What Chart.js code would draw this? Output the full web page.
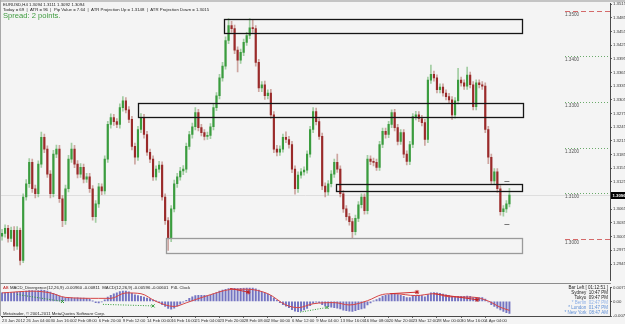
<!DOCTYPE html>
<html>
<head>
<meta charset="utf-8">
<script src="https://cdn.jsdelivr.net/npm/chart.js@4.4.1/dist/chart.umd.min.js"></script>
<style>
  html, body { margin: 0; padding: 0; }
  body { width: 625px; height: 324px; background: #f4f4f4; position: relative; overflow: hidden;
         font-family: "Liberation Sans", Arial, sans-serif; }
  canvas { position: absolute; left: 0; }
  #priceCanvas { top: 0; }
  #macdCanvas { top: 284px; }
  .txt { position: absolute; white-space: nowrap; color: #222; }
  #frameTop { position: absolute; left: 0; top: 0; width: 625px; height: 2px; background: #c4c4c4; }
  #frameLeft { position: absolute; left: 0; top: 0; width: 1px; height: 316px; background: #a8a8a8; }
  #sep { position: absolute; left: 0; top: 283px; width: 611px; height: 1px; background: #8c8c8c; }
  #info1 { left: 3px; top: 2px; font-size: 4.3px; }
  #info2 { left: 3px; top: 6.5px; font-size: 4.3px; }
  #spread { left: 3px; top: 11px; font-size: 7.6px; color: #3f9c3f; }
  #macdTitle { left: 3px; top: 285px; font-size: 4.3px; }
  #macdTitle b { color: #c02020; font-weight: normal; }
  #copy { left: 3px; top: 310.5px; font-size: 4.3px; }
  #clock { right: 17px; top: 284.5px; font-size: 4.5px; line-height: 5.1px; text-align: right; }
  #clock .c1 { color: #222; }
  #clock .c2 { color: #8eb0e6; }
  #clock .c3 { color: #5f8fd6; }
</style>
</head>
<body>
<canvas id="priceCanvas" width="625" height="284"></canvas>
<canvas id="macdCanvas" width="625" height="40"></canvas>
<div id="frameTop"></div>
<div id="frameLeft"></div>
<div id="sep"></div>
<div class="txt" id="info1">EURUSD,H4 1.3094 1.3111 1.3092 1.3094</div>
<div class="txt" id="info2">Today = 69 &nbsp;| &nbsp;ATR = 96 &nbsp;| &nbsp;Pip Value = 7.64 &nbsp;| &nbsp;ATR Projection Up = 1.3148 &nbsp;| &nbsp;ATR Projection Down = 1.3015</div>
<div class="txt" id="spread">Spread: 2 points.</div>
<div class="txt" id="macdTitle"><b>AB</b> MACD_Divergence(12,26,9) -0.00960 -0.00811 &nbsp;MACD(12,26,9) -0.00596 -0.00601 &nbsp;P4L Clock</div>
<div class="txt" id="copy">Metatrader, © 2001-2011 MetaQuotes Software Corp.</div>
<div class="txt" id="clock">
  <div class="c1">Bar Left [ 01:12:51 ]</div>
  <div class="c1">Sydney &nbsp;10:47 PM</div>
  <div class="c1">Tokyo &nbsp;09:47 PM</div>
  <div class="c2">* Berlin &nbsp;02:47 PM</div>
  <div class="c3">* London &nbsp;01:47 PM</div>
  <div class="c3">* New York &nbsp;08:47 AM</div>
</div>
<script>
// EURUSD H4, one candle per two H4 bars (index = candle number)
const opens = [
  1.3006, 1.3012, 1.3023, 1.3001, 1.3019, 1.2984, 1.3019, 1.2953, 1.3092, 1.3121,
  1.3168, 1.3110, 1.3099, 1.3164, 1.3223, 1.3197, 1.3142, 1.3099, 1.3186, 1.3197,
  1.3088, 1.3040, 1.3110, 1.3175, 1.3197, 1.3164, 1.3142, 1.3157, 1.3131, 1.3136,
  1.3110, 1.3049, 1.3077, 1.3114, 1.3105, 1.3175, 1.3251, 1.3266, 1.3257, 1.3251,
  1.3288, 1.3303, 1.3283, 1.3262, 1.3203, 1.3179, 1.3240, 1.3266, 1.3229, 1.3190,
  1.3175, 1.3136, 1.3153, 1.3162, 1.3092, 1.3040, 1.3001, 1.3066, 1.3121, 1.3136,
  1.3149, 1.3153, 1.3203, 1.3229, 1.3246, 1.3277, 1.3244, 1.3233, 1.3225, 1.3227,
  1.3246, 1.3288, 1.3314, 1.3353, 1.3379, 1.3435, 1.3468, 1.3461, 1.3414, 1.3392,
  1.3409, 1.3431, 1.3446, 1.3463, 1.3461, 1.3387, 1.3331, 1.3338, 1.3314, 1.3320,
  1.3272, 1.3197, 1.3190, 1.3197, 1.3223, 1.3218, 1.3207, 1.3153, 1.3110, 1.3140,
  1.3147, 1.3151, 1.3186, 1.3240, 1.3279, 1.3257, 1.3225, 1.3116, 1.3103, 1.3121,
  1.3142, 1.3168, 1.3153, 1.3099, 1.3066, 1.3049, 1.3038, 1.3016, 1.3045, 1.3075,
  1.3092, 1.3062, 1.3175, 1.3170, 1.3168, 1.3157, 1.3207, 1.3236, 1.3229, 1.3251,
  1.3277, 1.3244, 1.3214, 1.3233, 1.3186, 1.3170, 1.3207, 1.3268, 1.3272, 1.3264,
  1.3255, 1.3218, 1.3348, 1.3361, 1.3353, 1.3327, 1.3333, 1.3320, 1.3312, 1.3305,
  1.3272, 1.3303, 1.3348, 1.3342, 1.3335, 1.3359, 1.3338, 1.3290, 1.3342, 1.3338,
  1.3335, 1.3240, 1.3179, 1.3127, 1.3147, 1.3110, 1.3060, 1.3066, 1.3077
];
const highs = [
  1.3021, 1.3031, 1.3030, 1.3026, 1.3027, 1.3027, 1.3024, 1.3099, 1.3130, 1.3176,
  1.3175, 1.3118, 1.3171, 1.3234, 1.3230, 1.3204, 1.3150, 1.3194, 1.3206, 1.3205,
  1.3095, 1.3118, 1.3183, 1.3210, 1.3205, 1.3172, 1.3165, 1.3164, 1.3144, 1.3144,
  1.3117, 1.3084, 1.3122, 1.3121, 1.3182, 1.3258, 1.3274, 1.3273, 1.3264, 1.3296,
  1.3312, 1.3310, 1.3290, 1.3269, 1.3210, 1.3247, 1.3275, 1.3273, 1.3236, 1.3197,
  1.3182, 1.3160, 1.3170, 1.3169, 1.3099, 1.3047, 1.3073, 1.3129, 1.3144, 1.3157,
  1.3161, 1.3210, 1.3236, 1.3254, 1.3288, 1.3284, 1.3251, 1.3240, 1.3234, 1.3253,
  1.3296, 1.3321, 1.3361, 1.3387, 1.3443, 1.3483, 1.3477, 1.3469, 1.3421, 1.3416,
  1.3438, 1.3453, 1.3483, 1.3479, 1.3468, 1.3394, 1.3345, 1.3346, 1.3327, 1.3328,
  1.3279, 1.3205, 1.3204, 1.3230, 1.3235, 1.3225, 1.3214, 1.3160, 1.3147, 1.3154,
  1.3158, 1.3193, 1.3247, 1.3288, 1.3287, 1.3264, 1.3232, 1.3123, 1.3128, 1.3150,
  1.3175, 1.3186, 1.3160, 1.3106, 1.3073, 1.3056, 1.3045, 1.3052, 1.3082, 1.3099,
  1.3099, 1.3183, 1.3182, 1.3177, 1.3175, 1.3214, 1.3243, 1.3243, 1.3258, 1.3283,
  1.3284, 1.3251, 1.3240, 1.3240, 1.3193, 1.3214, 1.3275, 1.3280, 1.3279, 1.3271,
  1.3262, 1.3355, 1.3381, 1.3368, 1.3360, 1.3340, 1.3340, 1.3327, 1.3319, 1.3312,
  1.3310, 1.3374, 1.3355, 1.3349, 1.3377, 1.3366, 1.3345, 1.3349, 1.3349, 1.3345,
  1.3342, 1.3247, 1.3186, 1.3154, 1.3154, 1.3117, 1.3073, 1.3084, 1.3111
];
const lows = [
  1.2997, 1.3004, 1.2993, 1.2994, 1.2975, 1.2977, 1.2943, 1.2948, 1.3085, 1.3113,
  1.3102, 1.3090, 1.3092, 1.3157, 1.3189, 1.3135, 1.3090, 1.3092, 1.3178, 1.3080,
  1.3027, 1.3032, 1.3103, 1.3168, 1.3156, 1.3134, 1.3135, 1.3123, 1.3124, 1.3102,
  1.3041, 1.3036, 1.3069, 1.3097, 1.3098, 1.3168, 1.3243, 1.3249, 1.3244, 1.3243,
  1.3280, 1.3276, 1.3255, 1.3195, 1.3164, 1.3172, 1.3233, 1.3221, 1.3183, 1.3167,
  1.3128, 1.3129, 1.3146, 1.3085, 1.3032, 1.2975, 1.2994, 1.3059, 1.3113, 1.3129,
  1.3141, 1.3146, 1.3196, 1.3221, 1.3239, 1.3237, 1.3226, 1.3217, 1.3218, 1.3220,
  1.3239, 1.3281, 1.3307, 1.3346, 1.3372, 1.3428, 1.3453, 1.3406, 1.3366, 1.3385,
  1.3402, 1.3424, 1.3439, 1.3453, 1.3379, 1.3323, 1.3323, 1.3306, 1.3307, 1.3264,
  1.3189, 1.3182, 1.3183, 1.3190, 1.3211, 1.3199, 1.3145, 1.3098, 1.3102, 1.3133,
  1.3140, 1.3144, 1.3179, 1.3233, 1.3250, 1.3218, 1.3108, 1.3092, 1.3096, 1.3114,
  1.3135, 1.3146, 1.3092, 1.3058, 1.3041, 1.3030, 1.3001, 1.3009, 1.3038, 1.3068,
  1.3054, 1.3055, 1.3163, 1.3160, 1.3150, 1.3150, 1.3200, 1.3221, 1.3222, 1.3244,
  1.3237, 1.3206, 1.3207, 1.3178, 1.3162, 1.3163, 1.3200, 1.3261, 1.3257, 1.3248,
  1.3205, 1.3211, 1.3341, 1.3346, 1.3320, 1.3320, 1.3313, 1.3305, 1.3298, 1.3262,
  1.3265, 1.3296, 1.3335, 1.3328, 1.3328, 1.3331, 1.3283, 1.3283, 1.3331, 1.3328,
  1.3233, 1.3165, 1.3119, 1.3120, 1.3102, 1.3052, 1.3050, 1.3058, 1.3070
];
const closes = [
  1.3012, 1.3023, 1.3001, 1.3019, 1.2984, 1.3019, 1.2953, 1.3092, 1.3121, 1.3168,
  1.3110, 1.3099, 1.3164, 1.3223, 1.3197, 1.3142, 1.3099, 1.3186, 1.3197, 1.3088,
  1.3040, 1.3110, 1.3175, 1.3197, 1.3164, 1.3142, 1.3157, 1.3131, 1.3136, 1.3110,
  1.3049, 1.3077, 1.3114, 1.3105, 1.3175, 1.3251, 1.3266, 1.3257, 1.3251, 1.3288,
  1.3303, 1.3283, 1.3262, 1.3203, 1.3179, 1.3240, 1.3266, 1.3229, 1.3190, 1.3175,
  1.3136, 1.3153, 1.3162, 1.3092, 1.3040, 1.3001, 1.3066, 1.3121, 1.3136, 1.3149,
  1.3153, 1.3203, 1.3229, 1.3246, 1.3277, 1.3244, 1.3233, 1.3225, 1.3227, 1.3246,
  1.3288, 1.3314, 1.3353, 1.3379, 1.3435, 1.3468, 1.3461, 1.3414, 1.3392, 1.3409,
  1.3431, 1.3446, 1.3463, 1.3461, 1.3387, 1.3331, 1.3338, 1.3314, 1.3320, 1.3272,
  1.3197, 1.3190, 1.3197, 1.3223, 1.3218, 1.3207, 1.3153, 1.3110, 1.3140, 1.3147,
  1.3151, 1.3186, 1.3240, 1.3279, 1.3257, 1.3225, 1.3116, 1.3103, 1.3121, 1.3142,
  1.3168, 1.3153, 1.3099, 1.3066, 1.3049, 1.3038, 1.3016, 1.3045, 1.3075, 1.3092,
  1.3062, 1.3175, 1.3170, 1.3168, 1.3157, 1.3207, 1.3236, 1.3229, 1.3251, 1.3277,
  1.3244, 1.3214, 1.3233, 1.3186, 1.3170, 1.3207, 1.3268, 1.3272, 1.3264, 1.3255,
  1.3218, 1.3348, 1.3361, 1.3353, 1.3327, 1.3333, 1.3320, 1.3312, 1.3305, 1.3272,
  1.3303, 1.3348, 1.3342, 1.3335, 1.3359, 1.3338, 1.3290, 1.3342, 1.3338, 1.3335,
  1.3240, 1.3179, 1.3127, 1.3147, 1.3110, 1.3060, 1.3066, 1.3077, 1.3096
];

// MACD(12,26,9): main as histogram, signal as line
const macdHist = [
  0.0044, 0.0045, 0.0046, 0.0046, 0.0047, 0.0048, 0.0049,
  0.0050, 0.0053, 0.0056, 0.0056, 0.0055, 0.0056, 0.0058, 0.0057, 0.0054,
  0.0048, 0.0042, 0.0036, 0.0028,
  0.0022, 0.0020, 0.0020, 0.0019, 0.0018, 0.0019, 0.0018, 0.0017, 0.0016,
  0.0012, 0.0002, -0.0006, -0.0007, -0.0003,
  0.0008, 0.0022, 0.0032, 0.0039, 0.0045,
  0.0051, 0.0054, 0.0053, 0.0050, 0.0042, 0.0034,
  0.0030, 0.0026, 0.0022, 0.0018, 0.0015,
  0.0008, 0.0002, -0.0006, -0.0016, -0.0026,
  -0.0036, -0.0040, -0.0034, -0.0024, -0.0014,
  -0.0004, 0.0006, 0.0016, 0.0024, 0.0030,
  0.0032, 0.0032, 0.0031, 0.0030, 0.0033, 0.0039,
  0.0046, 0.0053, 0.0059, 0.0063, 0.0066, 0.0068,
  0.0067, 0.0066, 0.0068, 0.0069, 0.0070, 0.0070, 0.0070, 0.0065,
  0.0058, 0.0050, 0.0044, 0.0038, 0.0030, 0.0018, 0.0006,
  -0.0006, -0.0016, -0.0024, -0.0032, -0.0042, -0.0050, -0.0053,
  -0.0050, -0.0044, -0.0036, -0.0022, -0.0010, -0.0004, -0.0006,
  -0.0016, -0.0024, -0.0028, -0.0030, -0.0032, -0.0034, -0.0039, -0.0045, -0.0048,
  -0.0050, -0.0052, -0.0048, -0.0042, -0.0038, -0.0034,
  -0.0018, -0.0008, 0.0002, 0.0010, 0.0018, 0.0028, 0.0032,
  0.0036, 0.0040, 0.0038, 0.0036, 0.0032, 0.0026, 0.0020,
  0.0020, 0.0026, 0.0030, 0.0032, 0.0030, 0.0024,
  0.0036, 0.0044, 0.0046, 0.0044, 0.0042, 0.0038,
  0.0034, 0.0030, 0.0026, 0.0024, 0.0026, 0.0026, 0.0026, 0.0028, 0.0026,
  0.0020, 0.0020, 0.0020, 0.0020, 0.0012,
  -0.0002, -0.0016, -0.0026, -0.0034, -0.0044, -0.0052, -0.0058, -0.0062
];
const signalIdx = [0, 10, 16, 21, 32, 36, 41, 46, 51, 57, 61, 68, 77, 81, 88, 94, 98, 103, 110, 115,
                   121, 126, 130, 137, 143, 148, 156, 161, 165, 168];
const signalVals = [0.0044, 0.0053, 0.0044, 0.0021, 0.0016, 0.0016, 0.0044, 0.0040, 0.0000, -0.0026,
                    -0.0007, 0.0030, 0.0063, 0.0063, 0.0040, -0.0018, -0.0032, -0.0012, -0.0006, -0.0018,
                    0.0004, 0.0036, 0.0040, 0.0030, 0.0040, 0.0024, 0.0022, 0.0002, -0.0030, -0.0046];

// divergence segments (pairs of points)
const greenDivIdx = [5, 20, 33.4, 50, 98.7, 107.6];
const greenDivVals = [0.0036, 0.0000, -0.0015, -0.0023, -0.0055, -0.0031];
const redDivIdx = [75.5, 81.5, 128.5, 137.4, 143, 157.3];
const redDivVals = [0.0067, 0.0048, 0.0040, 0.0048, 0.0040, 0.0009];

// axes
const dateTickIdx = [0, 8, 16, 24, 32, 40, 48, 56, 64, 72, 80, 88, 96, 104, 112, 120, 128, 136, 144, 152, 160];
const dateLabels = ['23 Jan 2012', '26 Jan 04:00', '30 Jan 16:00', '2 Feb 08:00', '6 Feb 20:00', '9 Feb 12:00',
                    '14 Feb 00:00', '16 Feb 16:00', '21 Feb 04:00', '23 Feb 20:00', '28 Feb 08:00', '2 Mar 00:00',
                    '6 Mar 12:00', '9 Mar 04:00', '13 Mar 16:00', '16 Mar 08:00', '20 Mar 20:00', '23 Mar 12:00',
                    '28 Mar 00:00', '30 Mar 16:00', '4 Apr 04:00'];
const priceTicks = [1.2945, 1.2975, 1.3005, 1.3035, 1.3065, 1.3095, 1.3125, 1.3155, 1.3185, 1.3215,
                    1.3245, 1.3275, 1.3305, 1.3335, 1.3365, 1.3395, 1.3425, 1.3455, 1.3485, 1.3515];
const macdTicks = [0.00715, 0, -0.0075];
const macdTickLabels = ['0.00715', '0.00', '-0.0075'];

// round-number levels, drawn at the right side
const levelPrices = [1.3500, 1.3400, 1.3300, 1.3200, 1.3100, 1.3000];
const levelLabels = ['1.3500', '1.3400', '1.3300', '1.3200', '1.3100', '1.3000'];
const levelStartIdx = 186.4;

// supply / demand zones
const zoneStart = [73.5, 45.0, 110.6, 54.3];
const zoneEnd = [172.2, 172.5, 172.2, 172.2];
const zoneTop = [1.3483, 1.3298, 1.3121, 1.3003];
const zoneBottom = [1.3453, 1.3268, 1.3105, 1.2971];

// ATR projection marks on the last bar
const atrMarkIdx = 167;
const atrMarks = [1.3127, 1.3032];

const X_MIN = -0.35, X_MAX = 201.3;
const UP = '#3a9c3e', DOWN = '#9a2a2a';
const UP_WICK = 'rgba(80,165,80,0.5)', DOWN_WICK = 'rgba(165,85,75,0.5)';
const lastPrice = closes[closes.length - 1];

const isUp = opens.map((o, i) => closes[i] >= o);
const wickData = lows.map((l, i) => ({ x: i, y: [l, highs[i]] }));
const bodyData = opens.map((o, i) => ({ x: i, y: [o, closes[i]] }));

const priceOverlay = {
  id: 'priceOverlay',
  beforeDatasetsDraw(chart) {
    const { ctx, chartArea, scales: { y } } = chart;
    const py = Math.round(y.getPixelForValue(lastPrice)) + 0.5;
    ctx.save();
    ctx.strokeStyle = '#dedede';
    ctx.lineWidth = 1;
    ctx.beginPath();
    ctx.moveTo(chartArea.left, py);
    ctx.lineTo(chartArea.right, py);
    ctx.stroke();
    ctx.restore();
  },
  afterDatasetsDraw(chart) {
    const { ctx, chartArea, scales: { x, y } } = chart;
    ctx.save();
    // zones
    zoneStart.forEach((s, i) => {
      const x1 = x.getPixelForValue(s), x2 = x.getPixelForValue(zoneEnd[i]);
      const y1 = y.getPixelForValue(zoneTop[i]), y2 = y.getPixelForValue(zoneBottom[i]);
      ctx.lineWidth = 1.3;
      ctx.strokeStyle = i === 3 ? '#9a9a9a' : '#151515';
      ctx.strokeRect(Math.round(x1) + 0.5, Math.round(y1) + 0.5, Math.round(x2 - x1), Math.round(y2 - y1));
    });
    // levels
    const lx = x.getPixelForValue(levelStartIdx);
    levelPrices.forEach((p, i) => {
      const ly = Math.round(y.getPixelForValue(p)) + 0.5;
      const major = i === 0 || i === levelPrices.length - 1;
      ctx.strokeStyle = major ? '#d46a6a' : '#6aaa6a';
      ctx.setLineDash(major ? [5, 3] : [1, 2]);
      ctx.lineWidth = 1;
      ctx.beginPath();
      ctx.moveTo(lx, ly);
      ctx.lineTo(chartArea.right, ly);
      ctx.stroke();
      ctx.setLineDash([]);
      ctx.fillStyle = '#555';
      ctx.font = '4.6px "Liberation Sans", Arial';
      ctx.textBaseline = 'top';
      ctx.fillText(levelLabels[i], lx, ly + 1);
    });
    // ATR marks
    const ax = x.getPixelForValue(atrMarkIdx);
    ctx.strokeStyle = '#777';
    ctx.lineWidth = 1;
    atrMarks.forEach(p => {
      const ay = Math.round(y.getPixelForValue(p)) + 0.5;
      ctx.beginPath();
      ctx.moveTo(ax - 2, ay);
      ctx.lineTo(ax + 3, ay);
      ctx.stroke();
    });
    ctx.restore();
  },
  afterDraw(chart) {
    const { ctx, chartArea, scales: { y } } = chart;
    const py = y.getPixelForValue(lastPrice);
    ctx.save();
    ctx.fillStyle = '#000';
    ctx.fillRect(chartArea.right + 1, Math.round(py) - 3, 15, 7);
    ctx.fillStyle = '#fff';
    ctx.font = 'bold 4.3px "Liberation Sans", Arial';
    ctx.textBaseline = 'middle';
    ctx.fillText(lastPrice.toFixed(4), chartArea.right + 2.5, Math.round(py) + 0.5);
    ctx.restore();
  }
};

new Chart(document.getElementById('priceCanvas'), {
  type: 'bar',
  data: {
    datasets: [
      { data: wickData, backgroundColor: isUp.map(u => u ? UP_WICK : DOWN_WICK), barThickness: 1, grouped: false, order: 2 },
      { data: bodyData, backgroundColor: isUp.map(u => u ? UP : DOWN), barThickness: 1.5, grouped: false, minBarLength: 1, order: 1 }
    ]
  },
  options: {
    responsive: false,
    animation: false,
    events: [],
    layout: { padding: { left: 1, top: 3, right: 0, bottom: 1 } },
    plugins: { legend: { display: false }, tooltip: { enabled: false } },
    scales: {
      x: { type: 'linear', min: X_MIN, max: X_MAX, offset: false, display: false },
      y: {
        position: 'right',
        min: 1.2909, max: 1.3516,
        afterBuildTicks: s => { s.ticks = priceTicks.map(v => ({ value: v })); },
        afterFit: s => { s.width = 15; },
        border: { color: '#4a4a4a' },
        grid: { drawOnChartArea: false, tickLength: 2, color: '#666' },
        ticks: { autoSkip: false, padding: 1, color: '#333', font: { size: 4.3, family: '"Liberation Sans", Arial' },
                 callback: v => v.toFixed(4) }
      }
    }
  },
  plugins: [priceOverlay]
});

function segments(idx, vals) {
  const out = [];
  for (let i = 0; i < idx.length; i += 2) {
    out.push({ x: idx[i], y: vals[i] }, { x: idx[i + 1], y: vals[i + 1] }, { x: idx[i + 1] + 0.01, y: null });
  }
  return out;
}
function endMarks(idx) {
  const out = [];
  for (let i = 0; i < idx.length; i += 2) out.push(0, 2.2, 0);
  return out;
}

new Chart(document.getElementById('macdCanvas'), {
  data: {
    datasets: [
      { type: 'line', data: signalIdx.map((k, i) => ({ x: k, y: signalVals[i] })), borderColor: '#d64545', borderWidth: 1,
        pointRadius: 0, cubicInterpolationMode: 'monotone', order: 1 },
      { type: 'line', data: segments(greenDivIdx, greenDivVals), borderColor: '#2f9a36', borderWidth: 1, borderDash: [1, 1.5],
        pointRadius: endMarks(greenDivIdx), pointStyle: 'crossRot', pointBorderColor: '#2f9a36', spanGaps: false, order: 0 },
      { type: 'line', data: segments(redDivIdx, redDivVals), borderColor: '#d03030', borderWidth: 1,
        pointRadius: endMarks(redDivIdx), pointStyle: 'star', pointBorderColor: '#c02020', spanGaps: false, order: 0 },
      { type: 'bar', data: macdHist.map((v, i) => ({ x: i, y: v })), backgroundColor: '#7474c2', barThickness: 1.3, order: 2 }
    ]
  },
  options: {
    responsive: false,
    animation: false,
    events: [],
    layout: { padding: { left: 1, top: 1, right: 0, bottom: 0 } },
    plugins: { legend: { display: false }, tooltip: { enabled: false } },
    scales: {
      x: {
        type: 'linear', min: X_MIN, max: X_MAX, offset: false,
        afterBuildTicks: s => { s.ticks = dateTickIdx.map(v => ({ value: v })); },
        afterFit: s => { s.height = 8; },
        border: { color: '#4a4a4a' },
        grid: { drawOnChartArea: false, tickLength: 2, color: '#666', offset: false },
        ticks: { autoSkip: false, maxRotation: 0, minRotation: 0, align: 'start', padding: 0.5, color: '#333',
                 font: { size: 4.2, family: '"Liberation Sans", Arial' },
                 callback: v => dateLabels[dateTickIdx.indexOf(v)] }
      },
      y: {
        position: 'right',
        min: -0.0075, max: 0.00715,
        afterBuildTicks: s => { s.ticks = macdTicks.map(v => ({ value: v })); },
        afterFit: s => { s.width = 15; },
        border: { color: '#4a4a4a' },
        grid: { drawOnChartArea: false, tickLength: 2, color: '#666' },
        ticks: { autoSkip: false, padding: 1, color: '#333', font: { size: 4.3, family: '"Liberation Sans", Arial' },
                 callback: v => macdTickLabels[macdTicks.indexOf(v)] }
      }
    }
  }
});
</script>
</body>
</html>
